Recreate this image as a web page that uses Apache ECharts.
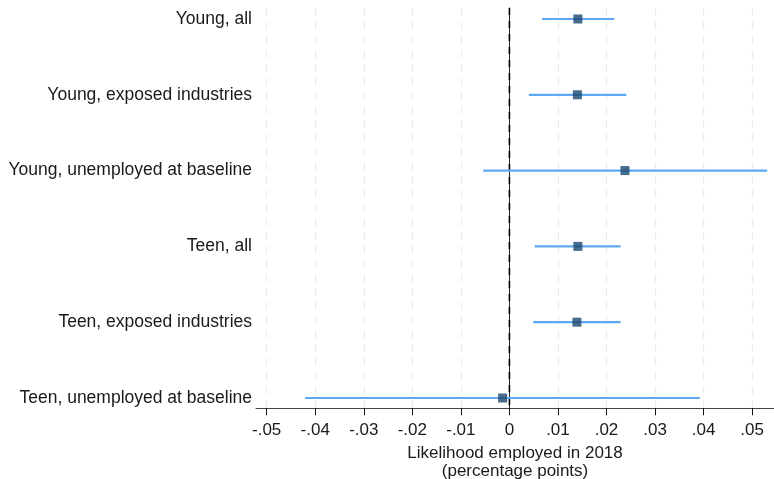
<!DOCTYPE html>
<html>
<head>
<meta charset="utf-8">
<script src="https://cdn.jsdelivr.net/npm/echarts@6/dist/echarts.min.js"></script>
<style>
  html, body { margin: 0; padding: 0; background: #fff; }
  #chart { width: 774px; height: 479px; }
</style>
</head>
<body>
<div id="chart"></div>
<script>
// Groups, listed from top to bottom
const groups = [
  'Young, all',
  'Young, exposed industries',
  'Young, unemployed at baseline',
  'Teen, all',
  'Teen, exposed industries',
  'Teen, unemployed at baseline'
];
// Point estimates and 95% confidence bounds (share, same order as groups)
const estimate = [0.0141, 0.0140, 0.0238, 0.0141, 0.0139, -0.0014];
const ciLow    = [0.0067, 0.0040, -0.0054, 0.0052, 0.0049, -0.0421];
const ciHigh   = [0.0216, 0.0241, 0.0531, 0.0229, 0.0229, 0.0392];
// Horizontal axis tick values
const xTicks = [-0.05, -0.04, -0.03, -0.02, -0.01, 0, 0.01, 0.02, 0.03, 0.04, 0.05];
// Reference line value
const refLine = [0];

const yMin = -0.136, yMax = 5.145;
const n = groups.length;
// Row position: first group on top
const rowPos = i => n - 1 - i;

const ciData = groups.map((g, i) => [ciLow[i], ciHigh[i], rowPos(i)]);
const pointData = groups.map((g, i) => [estimate[i], rowPos(i)]);

function fmtTick(v) {
  const k = Math.round(v * 100);
  if (k === 0) return '0';
  const s = '.' + String(Math.abs(k)).padStart(2, '0');
  return (k < 0 ? '-' : '') + s;
}

const textColor = '#1a1a1a';
const font = 'Liberation Sans, Arial, Helvetica, sans-serif';

const chart = echarts.init(document.getElementById('chart'));
chart.setOption({
  animation: false,
  backgroundColor: '#ffffff',
  grid: { left: 256, right: 0, top: 8, bottom: 70.7, containLabel: false, outerBoundsMode: 'none' },
  xAxis: {
    type: 'value',
    min: -0.0522,
    max: 0.0545,
    name: 'Likelihood employed in 2018\n(percentage points)',
    nameLocation: 'middle',
    nameGap: 36,
    nameTextStyle: { color: textColor, fontSize: 17, fontFamily: font, lineHeight: 18 },
    axisLine: { show: true, onZero: false, lineStyle: { color: '#444', width: 1 } },
    axisTick: { show: true, length: 7, customValues: xTicks, lineStyle: { color: '#111', width: 1 } },
    axisLabel: {
      customValues: xTicks,
      margin: 14,
      color: textColor,
      fontSize: 17,
      fontFamily: font,
      formatter: fmtTick
    },
    splitLine: { show: true, lineStyle: { color: '#ececec', width: 1.2, type: [8, 6] } }
  },
  yAxis: {
    type: 'value',
    min: yMin,
    max: yMax,
    axisLine: { show: true, lineStyle: { color: '#222', width: 1 } },
    axisTick: { show: false, customValues: [0, 1, 2, 3, 4, 5] },
    axisLabel: {
      customValues: [0, 1, 2, 3, 4, 5],
      margin: 4,
      color: textColor,
      fontSize: 17.5,
      fontFamily: font,
      formatter: v => groups[n - 1 - Math.round(v)]
    },
    splitLine: { show: false }
  },
  series: [
    {
      // dashed vertical reference line at zero
      type: 'custom',
      name: 'Zero',
      data: refLine.map(v => [v]),
      encode: { x: 0 },
      renderItem: (params, api) => {
        const top = api.coord([api.value(0), yMax]);
        const bot = api.coord([api.value(0), yMin]);
        return {
          type: 'line',
          shape: { x1: top[0], y1: top[1], x2: bot[0], y2: bot[1] },
          style: { stroke: '#000', lineWidth: 1.6, lineDash: [7, 6] }
        };
      },
      silent: true,
      z: 2
    },
    {
      type: 'custom',
      name: 'CI',
      data: ciData,
      encode: { x: [0, 1], y: 2 },
      renderItem: (params, api) => {
        const a = api.coord([api.value(0), api.value(2)]);
        const b = api.coord([api.value(1), api.value(2)]);
        return {
          type: 'line',
          shape: { x1: a[0], y1: a[1], x2: b[0], y2: b[1] },
          style: { stroke: '#5ea9f4', lineWidth: 2.2 }
        };
      },
      z: 3
    },
    {
      type: 'scatter',
      name: 'Estimate',
      data: pointData,
      symbol: 'rect',
      symbolSize: 9,
      itemStyle: { color: '#1a476f' },
      z: 4
    }
  ]
});
</script>
</body>
</html>
